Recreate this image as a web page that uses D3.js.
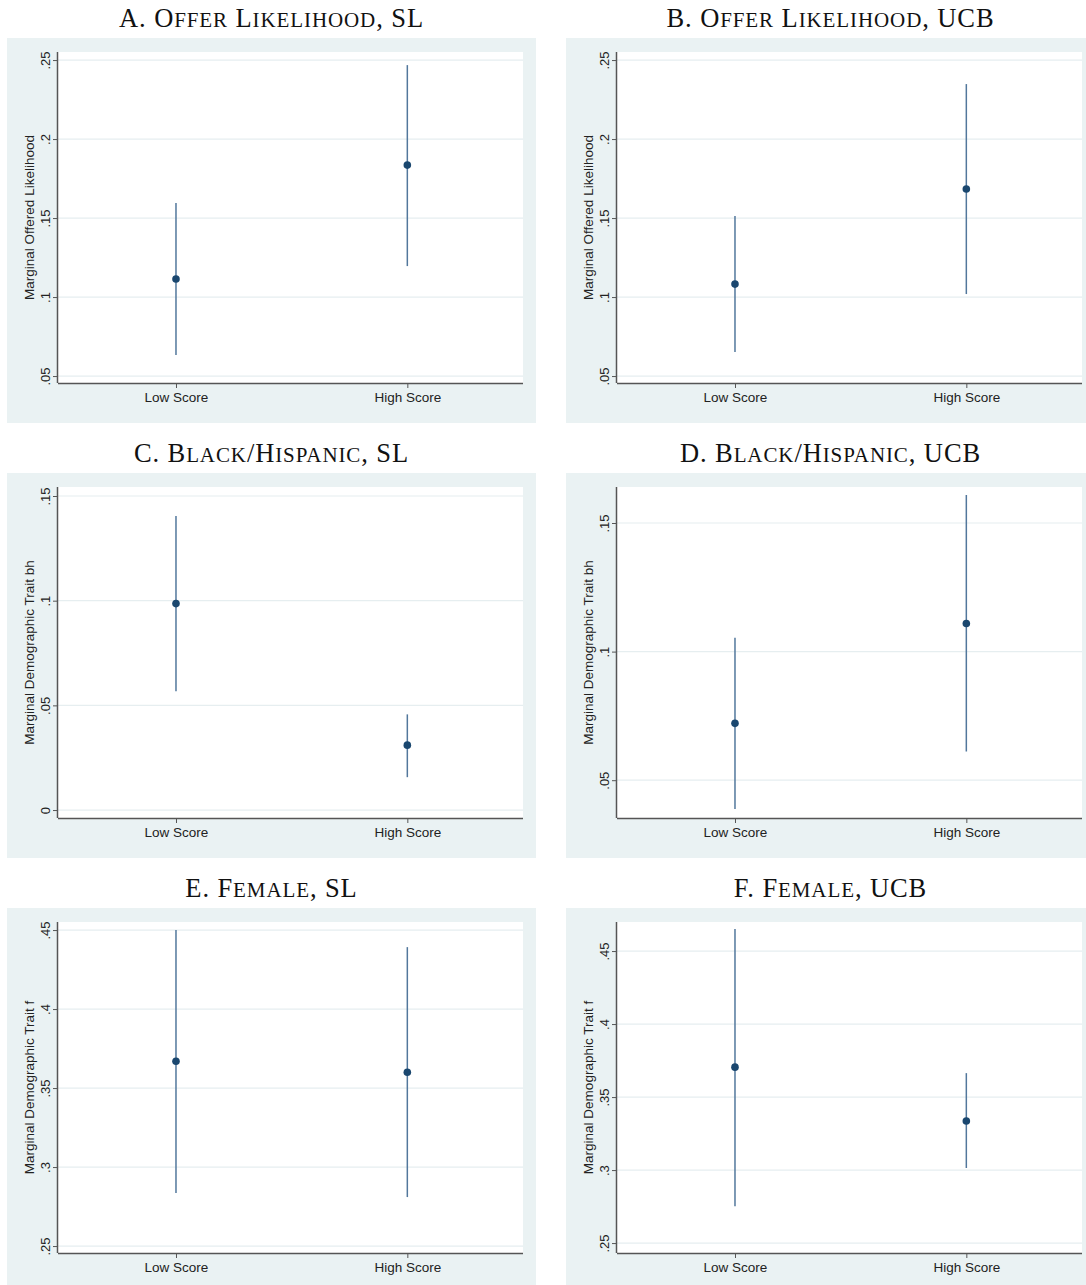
<!DOCTYPE html>
<html>
<head>
<meta charset="utf-8">
<script src="https://cdn.jsdelivr.net/npm/d3@7"></script>
<style>
  body { margin: 0; background: #fff; }
  svg text { font-family: "Liberation Sans", Arial, sans-serif; }
  svg text.ptitle { font-family: "Liberation Serif", "DejaVu Serif", serif; }
</style>
</head>
<body>
<div id="chart"></div>
<script>
// panel data
const titles = ["A. Offer Likelihood, SL", "B. Offer Likelihood, UCB",
                "C. Black/Hispanic, SL", "D. Black/Hispanic, UCB",
                "E. Female, SL", "F. Female, UCB"];
const yTitles = ["Marginal Offered Likelihood", "Marginal Offered Likelihood",
                 "Marginal Demographic Trait bh", "Marginal Demographic Trait bh",
                 "Marginal Demographic Trait f", "Marginal Demographic Trait f"];
const categories = ["Low Score", "High Score"];
const yTicks = [
  [.05, .1, .15, .2, .25], [.05, .1, .15, .2, .25],
  [0, .05, .1, .15], [.05, .1, .15],
  [.25, .3, .35, .4, .45], [.25, .3, .35, .4, .45]
];
const yDomains = [
  [.0456, .2551], [.0456, .2551],
  [-.0038, .1543], [.0353, .164],
  [.2456, .4551], [.2432, .4699]
];
// estimate, lower, upper for [Low Score, High Score]
const estimates = [[.1114, .1835], [.1082, .1684], [.0986, .031], [.0721, .1109], [.367, .360], [.3705, .3336]];
const lowers    = [[.0633, .1196], [.0652, .1019], [.0567, .0157], [.0388, .0612], [.2835, .281], [.2753, .3014]];
const uppers    = [[.1595, .2468], [.1513, .2348], [.1405, .0457], [.1054, .1609], [.45, .4392], [.4651, .3664]];

const W = 1086, H = 1285;
const BG = "#eaf2f3", NAVY = "#1a476f";
const svg = d3.select("#chart").append("svg").attr("width", W).attr("height", H);

const colX = [7, 566], rowY = [38, 473, 908];
const bgW = 529, bgH = 385;
const plotL = 51, plotT = 14, plotW = 465, plotH = 331;

// small caps by hand: first letter of each word full size, rest smaller capitals
function smallCaps(sel, str, big, small) {
  str.split(/(\s+|\/)/).forEach(tok => {
    if (!tok) return;
    if (/^[a-z]/i.test(tok)) {
      sel.append("tspan").attr("font-size", big).text(tok[0].toUpperCase());
      const rest = tok.slice(1);
      const m = rest.match(/^([a-z]*)(.*)$/);
      if (m[1]) sel.append("tspan").attr("font-size", small).text(m[1].toUpperCase());
      if (m[2]) sel.append("tspan").attr("font-size", big).text(m[2]);
    } else {
      sel.append("tspan").attr("font-size", big).text(tok);
    }
  });
}

titles.forEach((t, i) => {
  const c = i % 2, r = Math.floor(i / 2);
  const g = svg.append("g").attr("transform", `translate(${colX[c]},${rowY[r]})`);
  const tt = g.append("text").attr("class", "ptitle")
    .attr("x", bgW / 2).attr("y", -11).attr("text-anchor", "middle")
    .attr("fill", "#111").attr("letter-spacing", 0.9).style("white-space", "pre");
  smallCaps(tt, t, 26.5, 21);
  g.append("rect").attr("width", bgW).attr("height", bgH).attr("fill", BG);
  const p = g.append("g").attr("transform", `translate(${plotL},${plotT})`);
  p.append("rect").attr("width", plotW).attr("height", plotH).attr("fill", "#fff");

  const x = d3.scaleLinear().domain([0.49, 2.5]).range([0, plotW]);
  const y = d3.scaleLinear().domain(yDomains[i]).range([plotH, 0]);

  // grid
  p.selectAll(".grid").data(yTicks[i]).enter().append("line")
    .attr("x1", 0).attr("x2", plotW)
    .attr("y1", d => y(d)).attr("y2", d => y(d))
    .attr("stroke", "#e6eef0").attr("stroke-width", 1.2);

  // axes
  const yAxis = d3.axisLeft(y).tickValues(yTicks[i]).tickSize(5)
    .tickFormat(d => d === 0 ? "0" : d3.format(".2~f")(d).replace(/^0/, ""));
  const yg = p.append("g").call(yAxis);
  yg.select(".domain").attr("stroke", "#555").attr("stroke-width", 1.5).attr("d", `M-0.5,0V${plotH}`);
  yg.selectAll(".tick line").attr("stroke", "#555");
  yg.selectAll(".tick text")
    .attr("x", 0).attr("y", 0).attr("dy", 0)
    .attr("text-anchor", "middle")
    .attr("transform", "translate(-8,0) rotate(-90)")
    .attr("font-size", 13).attr("fill", "#222");

  const xAxis = d3.axisBottom(x).tickValues([1, 2]).tickSize(5).tickPadding(4)
    .tickFormat((d, k) => categories[k]);
  const xg = p.append("g").attr("transform", `translate(0,${plotH})`).call(xAxis);
  xg.select(".domain").attr("stroke", "#555").attr("stroke-width", 1.5).attr("d", `M0,0.5H${plotW}`);
  xg.selectAll(".tick line").attr("stroke", "#555");
  xg.selectAll(".tick text").attr("font-size", 13.5).attr("fill", "#222");

  p.append("text").attr("transform", `translate(-24,${plotH / 2}) rotate(-90)`)
    .attr("text-anchor", "middle").attr("font-size", 13.5).attr("fill", "#222")
    .text(yTitles[i]);

  // CI lines and points
  const rows = categories.map((cat, k) => ({ k: k + 1, est: estimates[i][k], lo: lowers[i][k], hi: uppers[i][k] }));
  p.selectAll(".ci").data(rows).enter().append("line")
    .attr("x1", d => x(d.k)).attr("x2", d => x(d.k))
    .attr("y1", d => y(d.lo)).attr("y2", d => y(d.hi))
    .attr("stroke", "#52779c").attr("stroke-width", 1.5);
  p.selectAll(".pt").data(rows).enter().append("circle")
    .attr("cx", d => x(d.k)).attr("cy", d => y(d.est)).attr("r", 3.8)
    .attr("fill", NAVY);
});
</script>
</body>
</html>
